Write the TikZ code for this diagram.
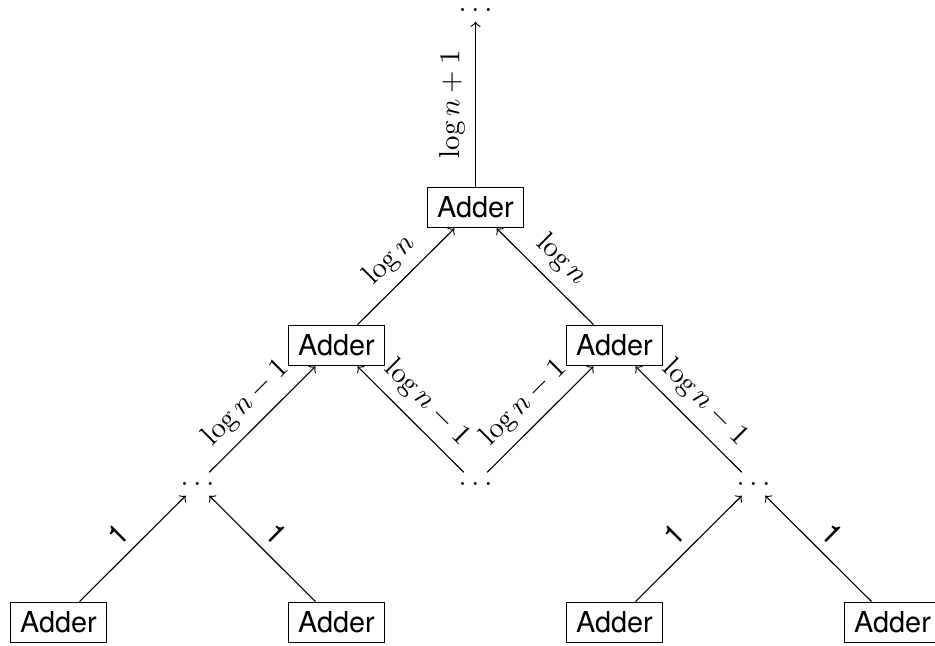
\documentclass[tikz,border=0pt]{standalone}
\usepackage{fontspec}
\setsansfont{TeX Gyre Heros}
\begin{document}
\begin{tikzpicture}[x=0.347pt,y=-0.347pt,
  adder/.style={draw,font=\sffamily,inner sep=3.333pt},
  dotsnode/.style={inner sep=3.333pt},
  lab/.style={above,sloped},
  sflab/.style={above,sloped,font=\sffamily}]
\useasboundingbox (0,0) rectangle (935,646);
% bottom row
\node[adder] (b1) at (58.5,622.5) {Adder};
\node[adder] (b2) at (336.5,622.5) {Adder};
\node[adder] (b3) at (614.5,622.5) {Adder};
\node[adder] (b4) at (892.5,622.5) {Adder};
% dots row
\node[dotsnode] (d1) at (197.5,484) {$\ldots$};
\node[dotsnode] (d2) at (475.5,484) {$\ldots$};
\node[dotsnode] (d3) at (753.5,484) {$\ldots$};
% middle row
\node[adder] (m1) at (336.5,345.5) {Adder};
\node[adder] (m2) at (614.5,345.5) {Adder};
% top
\node[adder] (t) at (475.5,207.5) {Adder};
\node[dotsnode] (td) at (475.5,10) {$\ldots$};
% connectors
\draw[->] (b1) -- node[sflab]{1} (d1);
\draw[->] (b2) -- node[sflab]{1} (d1);
\draw[->] (b3) -- node[sflab]{1} (d3);
\draw[->] (b4) -- node[sflab]{1} (d3);
\draw[->] (d1) -- node[lab]{$\log n-1$} (m1);
\draw[->] (d2) -- node[lab]{$\log n-1$} (m1);
\draw[->] (d2) -- node[lab]{$\log n-1$} (m2);
\draw[->] (d3) -- node[lab]{$\log n-1$} (m2);
\draw[->] (m1) -- node[lab]{$\log n$} (t);
\draw[->] (m2) -- node[lab]{$\log n$} (t);
\draw[->] (t) -- node[lab]{$\log n+1$} (td);
\end{tikzpicture}
\end{document}
